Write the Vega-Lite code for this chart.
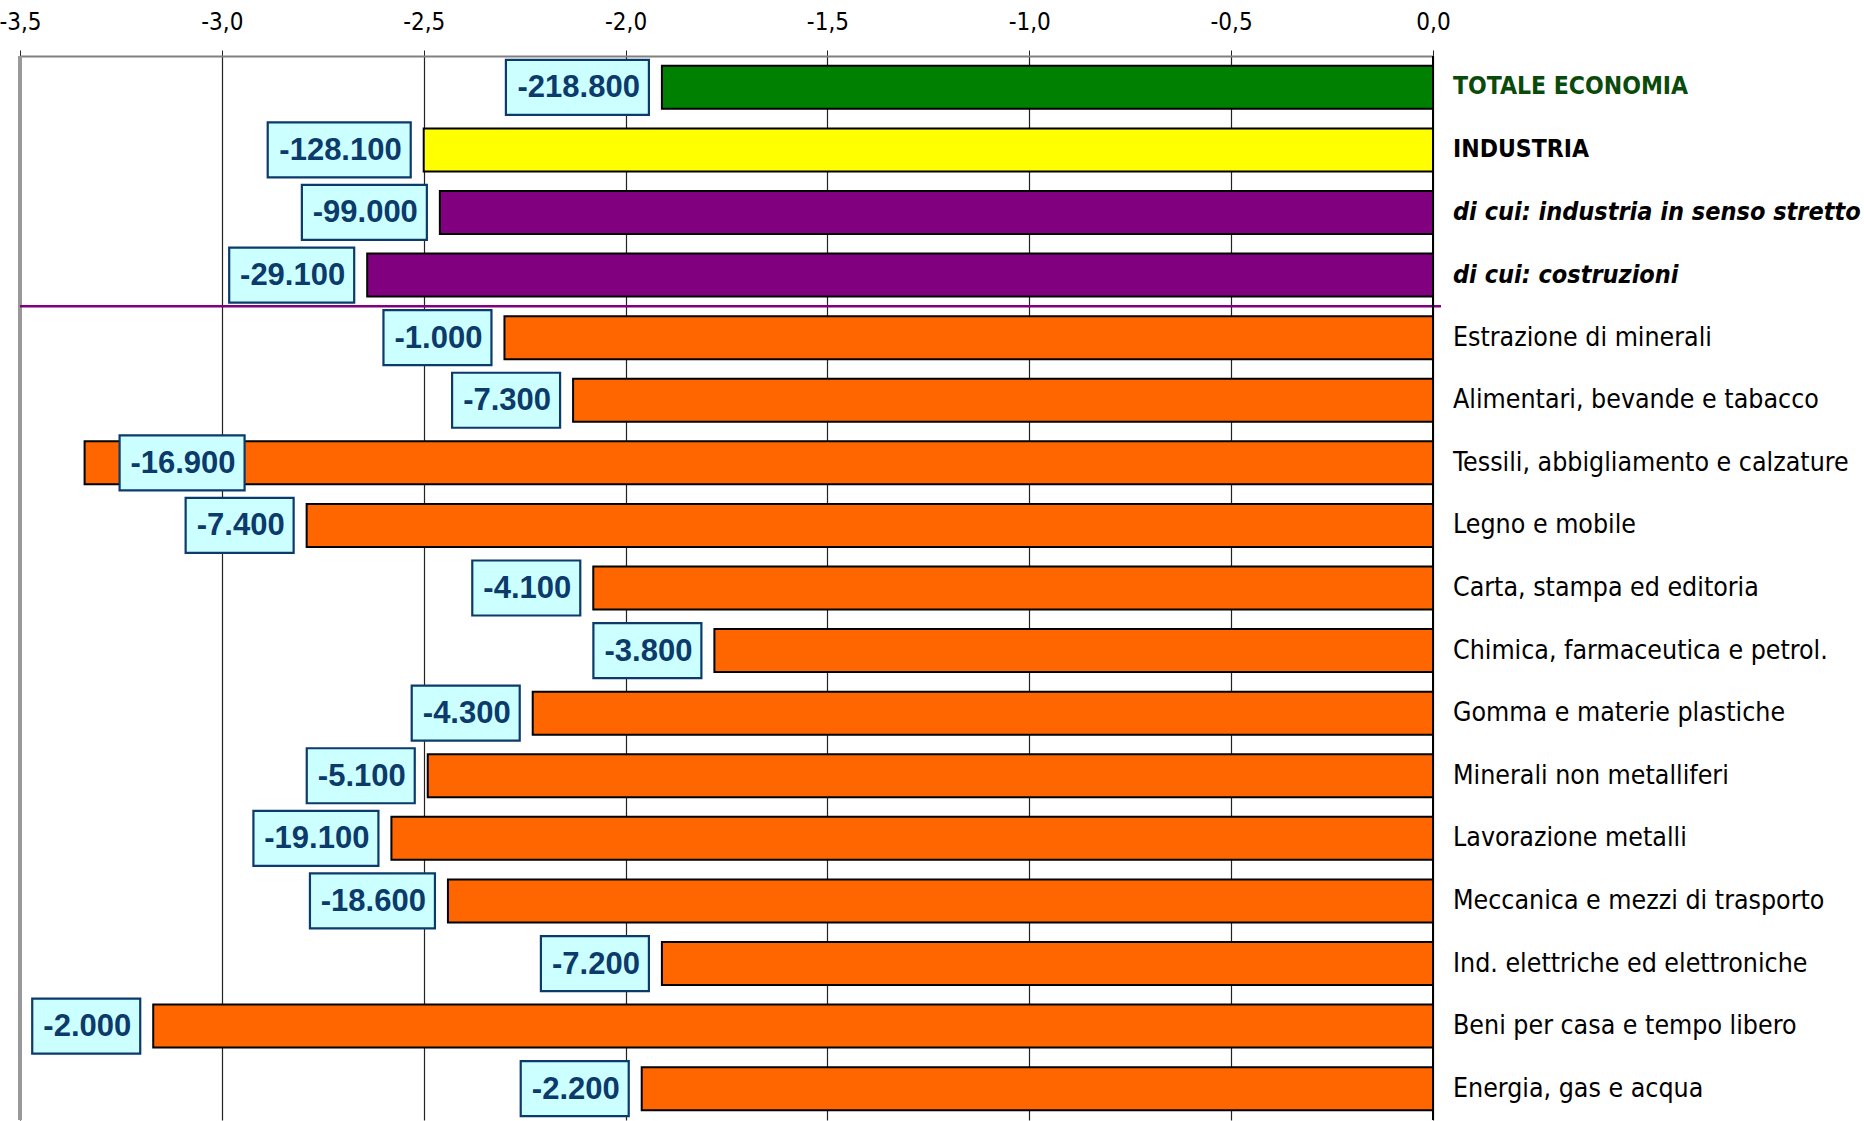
{
  "$schema": "https://vega.github.io/schema/vega-lite/v6.json",
  "autosize": {"type": "none"},
  "padding": {"left": 20, "top": 56, "right": 431, "bottom": 1},
  "width": 1413,
  "height": 1064,
  "background": "white",
  "config": {
    "view": {"stroke": null},
    "font": "DejaVu Sans Condensed"
  },
  "data": {
    "values": [
      {"sector": "TOTALE ECONOMIA", "value": -1.91, "label": "-218.800", "group": "totale"},
      {"sector": "INDUSTRIA", "value": -2.50, "label": "-128.100", "group": "industria"},
      {"sector": "di cui: industria in senso stretto", "value": -2.46, "label": "-99.000", "group": "dicui"},
      {"sector": "di cui: costruzioni", "value": -2.64, "label": "-29.100", "group": "dicui"},
      {"sector": "Estrazione di minerali", "value": -2.30, "label": "-1.000", "group": "settore"},
      {"sector": "Alimentari, bevande e tabacco", "value": -2.13, "label": "-7.300", "group": "settore"},
      {"sector": "Tessili, abbigliamento e calzature", "value": -3.34, "label": "-16.900", "group": "settore"},
      {"sector": "Legno e mobile", "value": -2.79, "label": "-7.400", "group": "settore"},
      {"sector": "Carta, stampa ed editoria", "value": -2.08, "label": "-4.100", "group": "settore"},
      {"sector": "Chimica, farmaceutica e petrol.", "value": -1.78, "label": "-3.800", "group": "settore"},
      {"sector": "Gomma e materie plastiche", "value": -2.23, "label": "-4.300", "group": "settore"},
      {"sector": "Minerali non metalliferi", "value": -2.49, "label": "-5.100", "group": "settore"},
      {"sector": "Lavorazione metalli", "value": -2.58, "label": "-19.100", "group": "settore"},
      {"sector": "Meccanica e mezzi di trasporto", "value": -2.44, "label": "-18.600", "group": "settore"},
      {"sector": "Ind. elettriche ed elettroniche", "value": -1.91, "label": "-7.200", "group": "settore"},
      {"sector": "Beni per casa e tempo libero", "value": -3.17, "label": "-2.000", "group": "settore"},
      {"sector": "Energia, gas e acqua", "value": -1.96, "label": "-2.200", "group": "settore"}
    ]
  },
  "encoding": {
    "y": {
      "field": "sector",
      "type": "nominal",
      "sort": null,
      "scale": {"paddingInner": 0, "paddingOuter": 0},
      "axis": null
    },
    "x": {
      "field": "value",
      "type": "quantitative",
      "scale": {"domain": [-3.5, 0], "nice": false},
      "axis": {
        "orient": "top",
        "title": null,
        "values": [-3.5, -3, -2.5, -2, -1.5, -1, -0.5, 0],
        "labelExpr": "replace(replace(format(datum.value, '.1f'), '.', ','), '\u2212', '-')",
        "labelFlush": false,
        "labelOverlap": false,
        "labelFont": "DejaVu Sans Condensed",
        "labelFontSize": 24,
        "labelColor": "black",
        "labelPadding": 16,
        "domainColor": "#808080",
        "domainWidth": 2,
        "tickColor": "#222222",
        "tickSize": 6,
        "grid": true,
        "gridColor": "#222222",
        "gridWidth": 1.2,
        "gridOpacity": 1
      }
    }
  },
  "layer": [
    {
      "mark": {"type": "bar", "height": {"band": 0.687}, "stroke": "black", "strokeWidth": 2},
      "encoding": {
        "color": {
          "field": "group",
          "type": "nominal",
          "legend": null,
          "scale": {
            "domain": ["totale", "industria", "dicui", "settore"],
            "range": ["#008000", "#FFFF00", "#800080", "#FF6600"]
          }
        }
      }
    },
    {
      "mark": {"type": "rule", "color": "#999999", "strokeWidth": 2.5},
      "encoding": {"x": {"value": 0}, "y": {"value": 0}, "y2": {"value": "height"}}
    },
    {
      "transform": [{"filter": "datum.sector === 'Estrazione di minerali'"}],
      "mark": {"type": "rule", "color": "#800080", "strokeWidth": 2.5, "yOffset": -31.3},
      "encoding": {"x": {"value": 0}, "x2": {"value": 1421}}
    },
    {
      "mark": {"type": "rule", "color": "black", "strokeWidth": 2},
      "encoding": {"x": {"value": "width"}, "y": {"value": 0}, "y2": {"value": "height"}}
    },
    {
      "transform": [{"filter": "length(datum.label) === 8"}],
      "mark": {"type": "point", "shape": "M-156,-27.5H-13V27.5H-156Z", "size": 4, "filled": true, "fill": "#CCFFFF", "stroke": "#0B3A6B", "strokeWidth": 2.2, "opacity": 1}
    },
    {
      "transform": [{"filter": "length(datum.label) === 7 && datum.value > -3.3"}],
      "mark": {"type": "point", "shape": "M-138,-27.5H-13V27.5H-138Z", "size": 4, "filled": true, "fill": "#CCFFFF", "stroke": "#0B3A6B", "strokeWidth": 2.2, "opacity": 1}
    },
    {
      "transform": [{"filter": "length(datum.label) === 6"}],
      "mark": {"type": "point", "shape": "M-121,-27.5H-13V27.5H-121Z", "size": 4, "filled": true, "fill": "#CCFFFF", "stroke": "#0B3A6B", "strokeWidth": 2.2, "opacity": 1}
    },
    {
      "transform": [{"filter": "datum.value <= -3.3"}],
      "mark": {"type": "point", "shape": "M35,-27.5H160V27.5H35Z", "size": 4, "filled": true, "fill": "#CCFFFF", "stroke": "#0B3A6B", "strokeWidth": 2.2, "opacity": 1}
    },
    {
      "transform": [{"filter": "datum.value > -3.3"}],
      "mark": {"type": "text", "align": "right", "baseline": "middle", "dx": -22, "dy": 1, "font": "Liberation Sans", "fontWeight": "bold", "fontSize": 31, "color": "#0B3A6B"},
      "encoding": {"text": {"field": "label"}}
    },
    {
      "transform": [{"filter": "datum.value <= -3.3"}],
      "mark": {"type": "text", "align": "right", "baseline": "middle", "dx": 151, "dy": 1, "font": "Liberation Sans", "fontWeight": "bold", "fontSize": 31, "color": "#0B3A6B"},
      "encoding": {"text": {"field": "label"}}
    },
    {
      "transform": [{"filter": "datum.group === 'totale'"}],
      "mark": {"type": "text", "align": "left", "baseline": "middle", "dx": 20, "font": "DejaVu Sans Condensed", "fontWeight": "bold", "fontSize": 24.5, "color": "#0A4A0A"},
      "encoding": {"x": {"value": "width"}, "text": {"field": "sector"}}
    },
    {
      "transform": [{"filter": "datum.group === 'industria'"}],
      "mark": {"type": "text", "align": "left", "baseline": "middle", "dx": 20, "font": "DejaVu Sans Condensed", "fontWeight": "bold", "fontSize": 24.5, "color": "black"},
      "encoding": {"x": {"value": "width"}, "text": {"field": "sector"}}
    },
    {
      "transform": [{"filter": "datum.group === 'dicui'"}],
      "mark": {"type": "text", "align": "left", "baseline": "middle", "dx": 20, "font": "DejaVu Sans Condensed", "fontWeight": "bold", "fontStyle": "italic", "fontSize": 25, "color": "black"},
      "encoding": {"x": {"value": "width"}, "text": {"field": "sector"}}
    },
    {
      "transform": [{"filter": "datum.group === 'settore'"}],
      "mark": {"type": "text", "align": "left", "baseline": "middle", "dx": 20, "font": "DejaVu Sans Condensed", "fontSize": 26.5, "color": "black"},
      "encoding": {"x": {"value": "width"}, "text": {"field": "sector"}}
    }
  ]
}
